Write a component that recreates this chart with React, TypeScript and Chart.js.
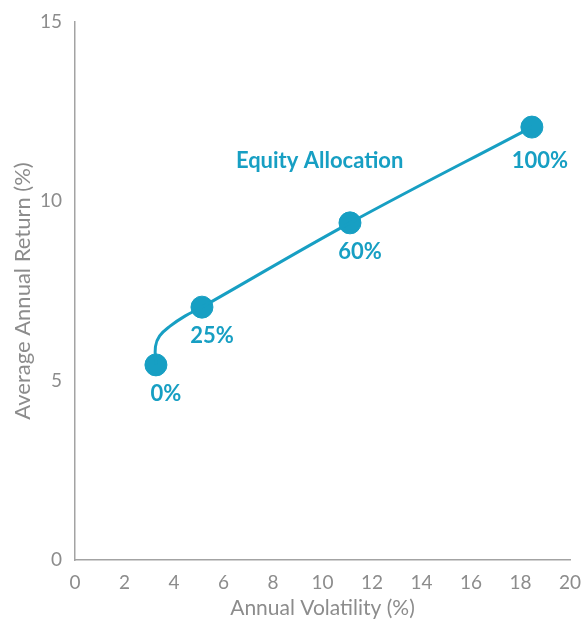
import React, { useEffect, useRef } from "react";
import { Chart, registerables } from "chart.js";

Chart.register(...registerables);

const allocationLabels = ["0%", "25%", "60%", "100%"];
const volatility = [3.27, 5.13, 11.11, 18.46];
const avgReturn = [5.44, 7.05, 9.4, 12.07];

const frontierVol = [3.27, 3.25, 3.42, 3.84, 4.44, 5.13, 11.11, 18.46];
const frontierRet = [5.44, 5.95, 6.25, 6.52, 6.8, 7.05, 9.4, 12.07];

const xTicks = [0, 2, 4, 6, 8, 10, 12, 14, 16, 18, 20];
const yTicks = [0, 5, 10, 15];

const BLUE = "#179fc3";
const GRAY = "#8c8c8c";
const FONT = "Lato, 'Open Sans', sans-serif";

const labelPlugin = {
  id: "pointLabels",
  afterDatasetsDraw(chart: any) {
    const ctx = chart.ctx;
    const meta = chart.getDatasetMeta(1);
    ctx.save();
    ctx.fillStyle = BLUE;
    ctx.font = `bold 22px ${FONT}`;
    ctx.textAlign = "center";
    ctx.textBaseline = "middle";
    meta.data.forEach((el: any, i: number) => {
      const last = i === allocationLabels.length - 1;
      ctx.fillText(allocationLabels[i], el.x + (last ? 8 : 10), el.y + (last ? 34 : 29));
    });
    const xs = chart.scales.x;
    const ys = chart.scales.y;
    ctx.textAlign = "left";
    ctx.fillText("Equity Allocation", xs.getPixelForValue(6.5), ys.getPixelForValue(11.12));
    ctx.restore();
  },
};

export default function App() {
  const ref = useRef<HTMLCanvasElement>(null);
  useEffect(() => {
    document.body.style.margin = "0";
    const chart = new Chart(ref.current!, {
      type: "scatter",
      data: {
        datasets: [
          {
            type: "line",
            data: frontierVol.map((x, i) => ({ x, y: frontierRet[i] })),
            borderColor: BLUE,
            borderWidth: 3,
            pointRadius: 0,
            tension: 0.4,
            fill: false,
          },
          {
            data: volatility.map((x, i) => ({ x, y: avgReturn[i] })),
            backgroundColor: BLUE,
            borderColor: BLUE,
            pointRadius: 11,
            pointHoverRadius: 11,
          },
        ],
      },
      options: {
        animation: false,
        responsive: false,
        maintainAspectRatio: false,
        layout: { padding: { top: 22, right: 14, left: 0, bottom: 0 } },
        plugins: { legend: { display: false }, tooltip: { enabled: false } },
        scales: {
          x: {
            type: "linear",
            min: 0,
            max: 20,
            afterBuildTicks: (s: any) => {
              s.ticks = xTicks.map((v) => ({ value: v }));
            },
            afterFit: (s: any) => {
              s.height = 61;
              s.paddingLeft = 0;
              s.paddingRight = 0;
            },
            grid: { display: false },
            border: { display: true, color: "#a3a3a3", width: 1.5 },
            ticks: { color: GRAY, font: { family: FONT, size: 19 }, padding: 3, maxRotation: 0 },
            title: {
              display: true,
              text: "Annual Volatility (%)",
              color: GRAY,
              font: { family: FONT, size: 21 },
              padding: 0,
            },
          },
          y: {
            type: "linear",
            min: 0,
            max: 15,
            afterBuildTicks: (s: any) => {
              s.ticks = yTicks.map((v) => ({ value: v }));
            },
            afterFit: (s: any) => {
              s.width = 75;
              s.paddingTop = 0;
              s.paddingBottom = 0;
            },
            grid: { display: false },
            border: { display: true, color: "#a3a3a3", width: 1.5 },
            ticks: { color: GRAY, font: { family: FONT, size: 19 }, padding: 5 },
            title: {
              display: true,
              text: "Average Annual Return (%)",
              color: GRAY,
              font: { family: FONT, size: 22 },
              padding: { top: 10, bottom: 0 },
            },
          },
        },
      },
      plugins: [labelPlugin],
    });
    return () => chart.destroy();
  }, []);
  return (
    <div style={{ position: "absolute", left: 0, top: 0, width: 584, height: 621 }}>
      <canvas ref={ref} width={584} height={621} style={{ display: "block" }} />
    </div>
  );
}
